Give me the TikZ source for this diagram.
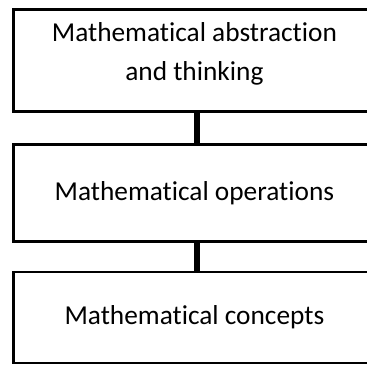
\documentclass[tikz,border=0pt]{standalone}
\usepackage{fontspec}
\setmainfont[Ligatures=NoCommon]{Carlito}
\usetikzlibrary{positioning}
\tikzset{every picture/.style={line width=0.75pt}}
\tikzset{levelbox/.style={draw, line width=2pt, minimum width=271pt, inner sep=0pt, align=center, font=\fontsize{20.5}{29}\selectfont},
  levellink/.style={line width=5pt}}

\begin{document}
\begin{tikzpicture}[x=0.75pt,y=0.75pt,yscale=-1,xscale=1]
\useasboundingbox (0,0) rectangle (367,365);

% Boxes
\node (abstr) [levelbox, minimum height=76.5pt, text depth=13pt] at (194.4,60.5) {Mathematical abstraction\\and thinking};
\node (oper) [levelbox, minimum height=72.75pt] at (194.4,193) {Mathematical operations};
\node (concept) [levelbox, minimum height=68.25pt] at (194.4,317.5) {Mathematical concepts};

% Links
\draw [levellink] ([xshift=2pt]abstr.south) -- ([xshift=2pt]oper.north);
\draw [levellink] ([xshift=2pt]oper.south) -- ([xshift=2pt]concept.north);

\end{tikzpicture}
\end{document}
